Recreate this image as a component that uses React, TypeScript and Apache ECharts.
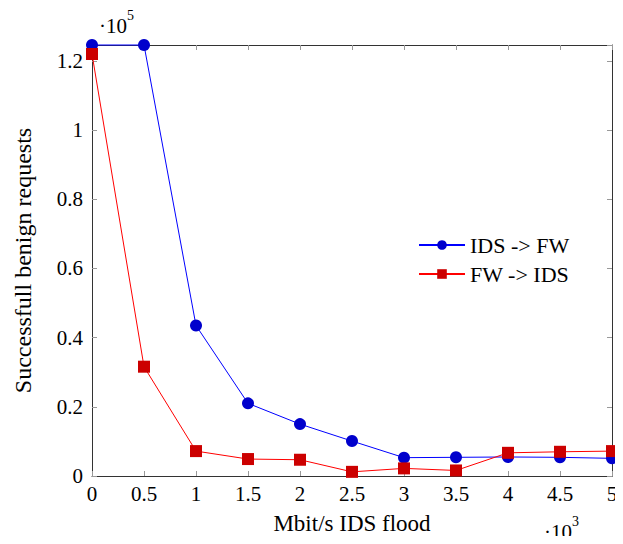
import React, { useEffect, useRef } from "react";
import * as echarts from "echarts";

const xValues = [0, 500, 1000, 1500, 2000, 2500, 3000, 3500, 4000, 4500, 5000];
const idsToFw = [124600, 124600, 43500, 21000, 15000, 10100, 5300, 5400, 5500, 5400, 5100];
const fwToIds = [122000, 31600, 7200, 4900, 4700, 1200, 2200, 1600, 6700, 7000, 7200];
const seriesNames = ["IDS -> FW", "FW -> IDS"];
const yMax = 124600;

const FONT = "'Liberation Serif', 'DejaVu Serif', serif";
const FS = 21;

export default function App() {
  const ref = useRef<HTMLDivElement>(null);
  useEffect(() => {
    if (!ref.current) return;
    const chart = echarts.init(ref.current, null, { renderer: "svg" });
    const tickStyle = { show: true, inside: true, length: 5, lineStyle: { color: "#999", width: 1 } };
    const axisLine = { show: true, onZero: false, lineStyle: { color: "#333", width: 1 } };
    const yLabel = (v: number) => (v % 20000 === 0 ? String(+(v / 1e5).toFixed(1)) : "");
    chart.setOption({
      animation: false,
      backgroundColor: "#fff",
      textStyle: { fontFamily: FONT },
      grid: { left: 92, right: 11, top: 45, bottom: 68, containLabel: false },
      legend: {
        left: 413,
        top: 229,
        orient: "vertical",
        itemGap: 7,
        itemWidth: 46,
        itemHeight: 12,
        textStyle: { fontFamily: FONT, fontSize: 22, color: "#000" },
        data: seriesNames,
      },
      xAxis: [
        {
          type: "value",
          min: 0,
          max: 5000,
          interval: 500,
          position: "bottom",
          axisLine,
          axisTick: tickStyle,
          splitLine: { show: false },
          axisLabel: {
            margin: 7,
            fontFamily: FONT,
            fontSize: FS,
            color: "#000",
            formatter: (v: number) => String(v / 1000),
          },
          name: "Mbit/s IDS flood",
          nameLocation: "middle",
          nameGap: 36,
          nameTextStyle: { fontFamily: FONT, fontSize: 23, color: "#000" },
        },
        {
          type: "value",
          min: 0,
          max: 5000,
          interval: 500,
          position: "top",
          axisLine,
          axisTick: tickStyle,
          splitLine: { show: false },
          axisLabel: { show: false },
        },
      ],
      yAxis: [
        {
          type: "value",
          min: 0,
          max: yMax,
          interval: 20000,
          position: "left",
          axisLine,
          axisTick: tickStyle,
          splitLine: { show: false },
          axisLabel: {
            margin: 9,
            fontFamily: FONT,
            fontSize: FS,
            color: "#000",
            showMaxLabel: false,
            formatter: yLabel,
          },
          name: "Successfull benign requests",
          nameLocation: "middle",
          nameGap: 57,
          nameTextStyle: { fontFamily: FONT, fontSize: 24, color: "#000" },
        },
        {
          type: "value",
          min: 0,
          max: yMax,
          interval: 20000,
          position: "right",
          axisLine,
          axisTick: tickStyle,
          splitLine: { show: false },
          axisLabel: { show: false },
        },
      ],
      graphic: [
        {
          type: "text",
          left: 99,
          top: 8,
          style: {
            text: "{a|·10}{b|5}",
            rich: {
              a: { fontFamily: FONT, fontSize: FS, fill: "#000", padding: [7, 0, 0, 0] },
              b: { fontFamily: FONT, fontSize: 14, fill: "#000", verticalAlign: "top" },
            },
          },
        },
        {
          type: "text",
          left: 544,
          top: 514,
          style: {
            text: "{a|·10}{b|3}",
            rich: {
              a: { fontFamily: FONT, fontSize: FS, fill: "#000", padding: [7, 0, 0, 0] },
              b: { fontFamily: FONT, fontSize: 14, fill: "#000", verticalAlign: "top" },
            },
          },
        },
      ],
      series: [
        {
          name: seriesNames[0],
          type: "line",
          data: xValues.map((x, i) => [x, idsToFw[i]]),
          symbol: "circle",
          symbolSize: 12,
          clip: false,
          lineStyle: { color: "#0000ff", width: 1 },
          itemStyle: { color: "#0000cc", borderColor: "#0000ff", borderWidth: 0 },
        },
        {
          name: seriesNames[1],
          type: "line",
          data: xValues.map((x, i) => [x, fwToIds[i]]),
          symbol: "rect",
          symbolSize: 12,
          clip: false,
          lineStyle: { color: "#ff0000", width: 1 },
          itemStyle: { color: "#cc0000", borderColor: "#ff0000", borderWidth: 0 },
        },
      ],
    });
    return () => chart.dispose();
  }, []);
  return <div ref={ref} style={{ width: 623, height: 544, margin: -8 }} />;
}
